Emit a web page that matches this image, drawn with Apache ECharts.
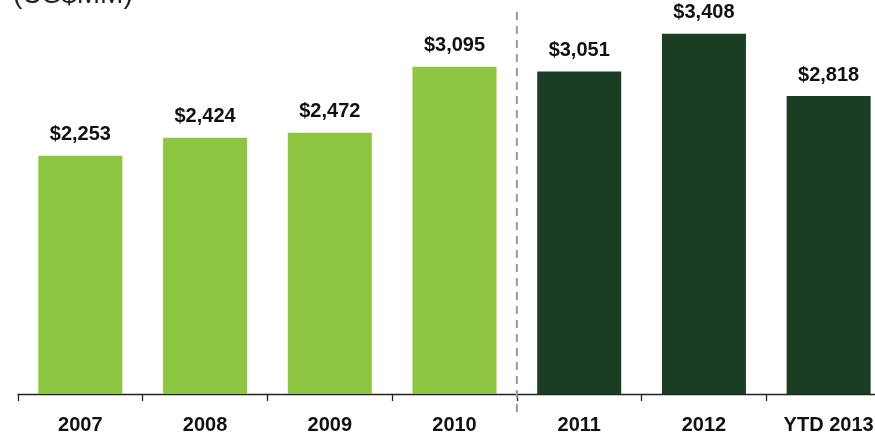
<!DOCTYPE html>
<html>
<head>
<meta charset="utf-8">
<script src="https://cdn.jsdelivr.net/npm/echarts@6/dist/echarts.min.js"></script>
<style>html,body{margin:0;padding:0;background:#fff;}#c{width:875px;height:433px;}</style>
</head>
<body>
<div id="c"></div>
<script>
var categories = ['2007', '2008', '2009', '2010', '2011', '2012', 'YTD 2013'];
var values = [2253, 2424, 2472, 3095, 3051, 3408, 2818];
var historicalCount = 4;
var unitTitle = '(US$MM)';

var LIGHT = '#8DC63F';
var DARK = '#1A3D24';
var FONT = '"Liberation Sans", Arial, sans-serif';

var chart = echarts.init(document.getElementById('c'));
var seriesData = values.map(function (v, i) {
  return { value: v, itemStyle: { color: i < historicalCount ? LIGHT : DARK } };
});

chart.setOption({
  animation: false,
  grid: { left: 18, top: 24, right: -16, bottom: 39, containLabel: false, outerBoundsMode: 'none' },
  xAxis: {
    type: 'category',
    data: categories,
    boundaryGap: true,
    axisLine: { lineStyle: { color: '#222', width: 1.3 } },
    axisTick: { show: true, length: 7, lineStyle: { color: '#222', width: 1.3 } },
    axisLabel: { color: '#111', fontWeight: 'bold', fontSize: 20, fontFamily: FONT, margin: 21, interval: 0 }
  },
  yAxis: { type: 'value', min: 0, max: 3500, show: false, splitLine: { show: false } },
  series: [{
    type: 'bar',
    data: seriesData,
    barWidth: 84,
    label: {
      show: true,
      position: 'top',
      distance: 11,
      color: '#111',
      fontWeight: 'bold',
      fontSize: 20,
      fontFamily: FONT,
      formatter: function (p) { return '$' + p.value.toLocaleString('en-US'); }
    }
  }]
});

function drawExtras() {
  var x1 = chart.convertToPixel({ xAxisIndex: 0 }, categories[historicalCount - 1]);
  var x2 = chart.convertToPixel({ xAxisIndex: 0 }, categories[historicalCount]);
  var xm = (x1 + x2) / 2;
  chart.setOption({
    graphic: [
      {
        type: 'line',
        shape: { x1: xm, y1: 12, x2: xm, y2: 413 },
        style: { stroke: '#999999', lineWidth: 2, lineDash: [8, 6] },
        z: 10
      },
      {
        type: 'text',
        left: 13,
        top: -19,
        style: { text: unitTitle, fontSize: 28, fontFamily: FONT, fill: '#222' }
      }
    ]
  });
}
drawExtras();
</script>
</body>
</html>
